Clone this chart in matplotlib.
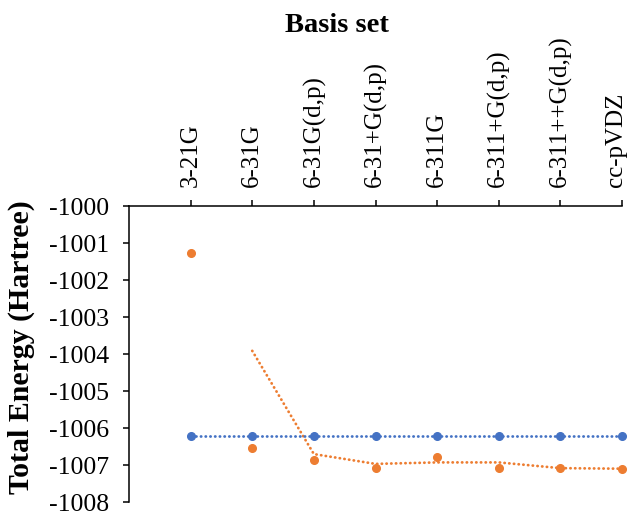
import matplotlib
matplotlib.use("Agg")
import matplotlib.pyplot as plt
import matplotlib.transforms as mtransforms
import numpy as np

basis_sets = ["3-21G", "6-31G", "6-31G(d,p)", "6-31+G(d,p)", "6-311G",
              "6-311+G(d,p)", "6-311++G(d,p)", "cc-pVDZ"]
energy_blue = [-1006.21, -1006.21, -1006.21, -1006.21, -1006.21, -1006.21, -1006.21, -1006.21]
energy_orange = [-1001.28, -1006.55, -1006.86, -1007.08, -1006.78, -1007.08, -1007.09, -1007.11]
y_ticks = [-1000, -1001, -1002, -1003, -1004, -1005, -1006, -1007, -1008]

plt.rcParams['font.family'] = ['Liberation Serif', 'DejaVu Serif']
plt.rcParams['axes.unicode_minus'] = False

blue = "#4472C4"
orange = "#ED7D31"
dots = (0, (0.1, 1.6))

fig = plt.figure(figsize=(6.31, 5.11), dpi=100)
ax = fig.add_axes([129/631, 9/511, 493/631, 296/511])

x = np.arange(1, len(basis_sets) + 1)

# blue series: dotted line with markers
ax.plot(x, energy_blue, color=blue, lw=2, linestyle=dots,
        dash_capstyle="round", zorder=3, clip_on=False)
ax.plot(x, energy_blue, color=blue, linestyle="none", marker="o", ms=5.5,
        zorder=3, clip_on=False)

# orange series: markers + 2-period moving average trendline
e = np.array(energy_orange)
ma = (e[1:] + e[:-1]) / 2
ax.plot(x[1:], ma, color=orange, lw=2, linestyle=dots,
        dash_capstyle="round", zorder=2, clip_on=False)
ax.plot(x, energy_orange, color=orange, linestyle="none", marker="o", ms=5.5,
        zorder=4, clip_on=False)

ax.set_xlim(0, 8)
ax.set_ylim(-1008, -1000)
ax.set_yticks(y_ticks)
ax.set_yticklabels([str(v) for v in y_ticks], fontsize=18.5)

ax.xaxis.tick_top()
ax.set_xticks(x)
ax.set_xticklabels(basis_sets, rotation=90, fontsize=18)
ax.tick_params(axis="x", direction="out", length=4, width=1.1, pad=9.5)
ax.tick_params(axis="y", direction="out", length=4.5, width=1.1, pad=10)

# nudge the last label in so it stays inside the figure
last = ax.get_xticklabels()[-1]
last.set_transform(last.get_transform() +
                   mtransforms.ScaledTranslation(-4/72, 0, fig.dpi_scale_trans))

for s in ["bottom", "right"]:
    ax.spines[s].set_visible(False)
for s in ["left", "top"]:
    ax.spines[s].set_linewidth(1.1)

fig.text(337/631, 1 - 25/511, "Basis set", ha="center", va="center",
         fontsize=20.5, fontweight="bold")
fig.text(21/631, 1 - 347/511, "Total Energy (Hartree)", ha="center", va="center",
         rotation=90, fontsize=21.5, fontweight="bold")

fig.savefig("out.png", dpi=100)
